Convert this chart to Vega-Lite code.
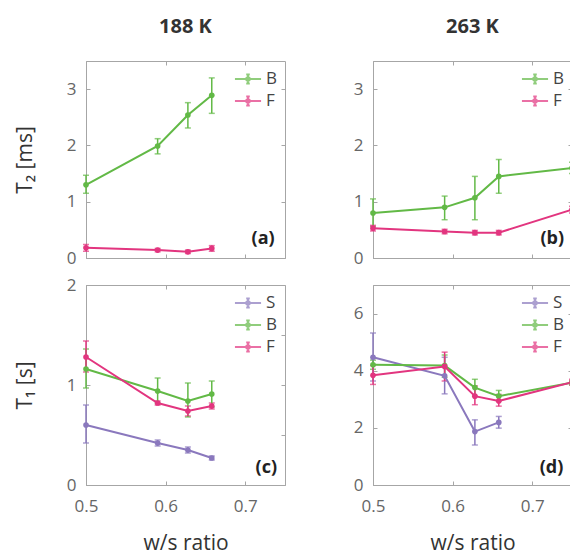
{
  "$schema": "https://vega.github.io/schema/vega-lite/v6.json",
  "padding": {"left": 13, "top": 16, "right": 0, "bottom": 4},
  "background": "white",
  "datasets": {
    "pts": [
      {"panel": "a", "s": "B", "x": 0.5, "y": 1.30, "lo": 1.15, "hi": 1.47},
      {"panel": "a", "s": "B", "x": 0.59, "y": 1.99, "lo": 1.85, "hi": 2.12},
      {"panel": "a", "s": "B", "x": 0.628, "y": 2.54, "lo": 2.31, "hi": 2.76},
      {"panel": "a", "s": "B", "x": 0.658, "y": 2.89, "lo": 2.57, "hi": 3.20},
      {"panel": "a", "s": "F", "x": 0.5, "y": 0.18, "lo": 0.12, "hi": 0.24},
      {"panel": "a", "s": "F", "x": 0.59, "y": 0.14, "lo": 0.11, "hi": 0.17},
      {"panel": "a", "s": "F", "x": 0.628, "y": 0.11, "lo": 0.08, "hi": 0.14},
      {"panel": "a", "s": "F", "x": 0.658, "y": 0.17, "lo": 0.12, "hi": 0.22},
      {"panel": "b", "s": "B", "x": 0.5, "y": 0.80, "lo": 0.56, "hi": 1.05},
      {"panel": "b", "s": "B", "x": 0.59, "y": 0.90, "lo": 0.68, "hi": 1.10},
      {"panel": "b", "s": "B", "x": 0.628, "y": 1.07, "lo": 0.68, "hi": 1.45},
      {"panel": "b", "s": "B", "x": 0.658, "y": 1.45, "lo": 1.15, "hi": 1.75},
      {"panel": "b", "s": "B", "x": 0.75, "y": 1.60, "lo": 1.50, "hi": 1.70},
      {"panel": "b", "s": "F", "x": 0.5, "y": 0.53, "lo": 0.48, "hi": 0.58},
      {"panel": "b", "s": "F", "x": 0.59, "y": 0.47, "lo": 0.43, "hi": 0.51},
      {"panel": "b", "s": "F", "x": 0.628, "y": 0.45, "lo": 0.41, "hi": 0.49},
      {"panel": "b", "s": "F", "x": 0.658, "y": 0.45, "lo": 0.41, "hi": 0.49},
      {"panel": "b", "s": "F", "x": 0.75, "y": 0.86, "lo": 0.80, "hi": 0.92},
      {"panel": "c", "s": "S", "x": 0.5, "y": 0.60, "lo": 0.42, "hi": 0.80},
      {"panel": "c", "s": "S", "x": 0.59, "y": 0.42, "lo": 0.39, "hi": 0.45},
      {"panel": "c", "s": "S", "x": 0.628, "y": 0.35, "lo": 0.32, "hi": 0.38},
      {"panel": "c", "s": "S", "x": 0.658, "y": 0.27, "lo": 0.25, "hi": 0.29},
      {"panel": "c", "s": "B", "x": 0.5, "y": 1.16, "lo": 0.97, "hi": 1.36},
      {"panel": "c", "s": "B", "x": 0.59, "y": 0.94, "lo": 0.82, "hi": 1.07},
      {"panel": "c", "s": "B", "x": 0.628, "y": 0.84, "lo": 0.68, "hi": 1.02},
      {"panel": "c", "s": "B", "x": 0.658, "y": 0.91, "lo": 0.78, "hi": 1.04},
      {"panel": "c", "s": "F", "x": 0.5, "y": 1.28, "lo": 1.13, "hi": 1.44},
      {"panel": "c", "s": "F", "x": 0.59, "y": 0.82, "lo": 0.80, "hi": 0.84},
      {"panel": "c", "s": "F", "x": 0.628, "y": 0.74, "lo": 0.69, "hi": 0.79},
      {"panel": "c", "s": "F", "x": 0.658, "y": 0.79, "lo": 0.76, "hi": 0.82},
      {"panel": "d", "s": "S", "x": 0.5, "y": 4.47, "lo": 3.64, "hi": 5.32},
      {"panel": "d", "s": "S", "x": 0.59, "y": 3.82, "lo": 3.19, "hi": 4.47},
      {"panel": "d", "s": "S", "x": 0.628, "y": 1.87, "lo": 1.40, "hi": 2.28},
      {"panel": "d", "s": "S", "x": 0.658, "y": 2.19, "lo": 1.99, "hi": 2.40},
      {"panel": "d", "s": "B", "x": 0.5, "y": 4.21, "lo": 4.05, "hi": 4.37},
      {"panel": "d", "s": "B", "x": 0.59, "y": 4.18, "lo": 3.77, "hi": 4.55},
      {"panel": "d", "s": "B", "x": 0.628, "y": 3.41, "lo": 3.11, "hi": 3.70},
      {"panel": "d", "s": "B", "x": 0.658, "y": 3.11, "lo": 2.94, "hi": 3.31},
      {"panel": "d", "s": "B", "x": 0.75, "y": 3.58, "lo": 3.50, "hi": 3.66},
      {"panel": "d", "s": "F", "x": 0.5, "y": 3.84, "lo": 3.52, "hi": 4.18},
      {"panel": "d", "s": "F", "x": 0.59, "y": 4.15, "lo": 3.64, "hi": 4.65},
      {"panel": "d", "s": "F", "x": 0.628, "y": 3.11, "lo": 2.81, "hi": 3.47},
      {"panel": "d", "s": "F", "x": 0.658, "y": 2.94, "lo": 2.76, "hi": 3.17},
      {"panel": "d", "s": "F", "x": 0.75, "y": 3.60, "lo": 3.50, "hi": 3.70}
    ]
  },
  "columns": 2,
  "spacing": {"row": 8, "column": 66},
  "concat": [
    {
      "title": "188 K",
      "width": 199,
      "height": 197,
      "data": {"name": "pts"},
      "transform": [{"filter": "datum.panel === 'a'"}],
      "resolve": {"axis": {"x": "independent", "y": "independent"}},
      "layer": [
        {
          "mark": {"type": "errorbar", "ticks": {"size": 6}, "thickness": 1.5},
          "encoding": {
            "x": {"field": "x", "type": "quantitative", "scale": {"domain": [0.5, 0.75], "nice": false}, "axis": {"values": [0.5, 0.6, 0.7], "labels": false, "title": null}},
            "y": {"field": "lo", "type": "quantitative", "scale": {"domain": [0, 3.5], "nice": false}, "axis": {"values": [0, 1, 2, 3], "labelExpr": "'' + datum.value", "title": "T₂  [ms]"}},
            "y2": {"field": "hi"},
            "color": {"field": "s", "type": "nominal", "scale": {"domain": ["B", "F"], "range": ["#62b946", "#e2357f"]}}
          }
        },
        {
          "mark": {"type": "line", "strokeWidth": 2},
          "encoding": {
            "x": {"field": "x", "type": "quantitative", "axis": null},
            "y": {"field": "y", "type": "quantitative", "axis": null},
            "color": {"field": "s", "type": "nominal"}
          }
        },
        {
          "mark": {"type": "point", "filled": true, "size": 32, "opacity": 1},
          "encoding": {
            "x": {"field": "x", "type": "quantitative", "axis": null},
            "y": {"field": "y", "type": "quantitative", "axis": null},
            "color": {"field": "s", "type": "nominal", "title": null, "legend": {"orient": "top-right"}}
          }
        },
        {
          "data": {"values": [{}]},
          "mark": {"type": "text", "text": "(a)", "align": "right", "baseline": "alphabetic", "fontSize": 18, "fontWeight": "bold", "color": "#222"},
          "encoding": {
            "x": {"datum": 0.737, "type": "quantitative", "axis": {"orient": "top", "values": [0.5, 0.6, 0.7], "labels": false, "domain": false, "title": null}},
            "y": {"datum": 0.25, "type": "quantitative", "axis": {"orient": "right", "values": [0, 1, 2, 3], "labels": false, "domain": false, "title": null}}
          }
        }
      ]
    },
    {
      "title": "263 K",
      "width": 199,
      "height": 197,
      "data": {"name": "pts"},
      "transform": [{"filter": "datum.panel === 'b'"}],
      "resolve": {"axis": {"x": "independent", "y": "independent"}},
      "layer": [
        {
          "mark": {"type": "errorbar", "ticks": {"size": 6}, "thickness": 1.5},
          "encoding": {
            "x": {"field": "x", "type": "quantitative", "scale": {"domain": [0.5, 0.75], "nice": false}, "axis": {"values": [0.5, 0.6, 0.7], "labels": false, "title": null}},
            "y": {"field": "lo", "type": "quantitative", "scale": {"domain": [0, 3.5], "nice": false}, "axis": {"values": [0, 1, 2, 3], "labelExpr": "'' + datum.value", "title": null}},
            "y2": {"field": "hi"},
            "color": {"field": "s", "type": "nominal", "scale": {"domain": ["B", "F"], "range": ["#62b946", "#e2357f"]}}
          }
        },
        {
          "mark": {"type": "line", "strokeWidth": 2},
          "encoding": {
            "x": {"field": "x", "type": "quantitative", "axis": null},
            "y": {"field": "y", "type": "quantitative", "axis": null},
            "color": {"field": "s", "type": "nominal"}
          }
        },
        {
          "mark": {"type": "point", "filled": true, "size": 32, "opacity": 1},
          "encoding": {
            "x": {"field": "x", "type": "quantitative", "axis": null},
            "y": {"field": "y", "type": "quantitative", "axis": null},
            "color": {"field": "s", "type": "nominal", "title": null, "legend": {"orient": "top-right"}}
          }
        },
        {
          "data": {"values": [{}]},
          "mark": {"type": "text", "text": "(b)", "align": "right", "baseline": "alphabetic", "fontSize": 18, "fontWeight": "bold", "color": "#222"},
          "encoding": {
            "x": {"datum": 0.74, "type": "quantitative", "axis": {"orient": "top", "values": [0.5, 0.6, 0.7], "labels": false, "domain": false, "title": null}},
            "y": {"datum": 0.25, "type": "quantitative", "axis": {"orient": "right", "values": [0, 1, 2, 3], "labels": false, "domain": false, "title": null}}
          }
        }
      ]
    },
    {
      "width": 199,
      "height": 200,
      "data": {"name": "pts"},
      "transform": [{"filter": "datum.panel === 'c'"}],
      "resolve": {"axis": {"x": "independent", "y": "independent"}},
      "layer": [
        {
          "mark": {"type": "errorbar", "ticks": {"size": 6}, "thickness": 1.5},
          "encoding": {
            "x": {"field": "x", "type": "quantitative", "scale": {"domain": [0.5, 0.75], "nice": false}, "axis": {"values": [0.5, 0.6, 0.7], "format": ".1f", "title": "w/s ratio"}},
            "y": {"field": "lo", "type": "quantitative", "scale": {"domain": [0, 2], "nice": false}, "axis": {"values": [0, 1, 2], "labelExpr": "'' + datum.value", "title": "T₁  [s]"}},
            "y2": {"field": "hi"},
            "color": {"field": "s", "type": "nominal", "scale": {"domain": ["S", "B", "F"], "range": ["#8a78bd", "#62b946", "#e2357f"]}}
          }
        },
        {
          "mark": {"type": "line", "strokeWidth": 2},
          "encoding": {
            "x": {"field": "x", "type": "quantitative", "axis": null},
            "y": {"field": "y", "type": "quantitative", "axis": null},
            "color": {"field": "s", "type": "nominal"}
          }
        },
        {
          "mark": {"type": "point", "filled": true, "size": 32, "opacity": 1},
          "encoding": {
            "x": {"field": "x", "type": "quantitative", "axis": null},
            "y": {"field": "y", "type": "quantitative", "axis": null},
            "color": {"field": "s", "type": "nominal", "title": null, "legend": {"orient": "top-right"}}
          }
        },
        {
          "data": {"values": [{}]},
          "mark": {"type": "text", "text": "(c)", "align": "right", "baseline": "alphabetic", "fontSize": 18, "fontWeight": "bold", "color": "#222"},
          "encoding": {
            "x": {"datum": 0.74, "type": "quantitative", "axis": {"orient": "top", "values": [0.5, 0.6, 0.7], "labels": false, "domain": false, "title": null}},
            "y": {"datum": 0.12, "type": "quantitative", "axis": {"orient": "right", "values": [0, 0.5, 1, 1.5, 2], "labels": false, "domain": false, "title": null}}
          }
        }
      ]
    },
    {
      "width": 199,
      "height": 200,
      "data": {"name": "pts"},
      "transform": [{"filter": "datum.panel === 'd'"}],
      "resolve": {"axis": {"x": "independent", "y": "independent"}},
      "layer": [
        {
          "mark": {"type": "errorbar", "ticks": {"size": 6}, "thickness": 1.5},
          "encoding": {
            "x": {"field": "x", "type": "quantitative", "scale": {"domain": [0.5, 0.75], "nice": false}, "axis": {"values": [0.5, 0.6, 0.7], "format": ".1f", "title": "w/s ratio"}},
            "y": {"field": "lo", "type": "quantitative", "scale": {"domain": [0, 7], "nice": false}, "axis": {"values": [0, 2, 4, 6], "labelExpr": "'' + datum.value", "title": null}},
            "y2": {"field": "hi"},
            "color": {"field": "s", "type": "nominal", "scale": {"domain": ["S", "B", "F"], "range": ["#8a78bd", "#62b946", "#e2357f"]}}
          }
        },
        {
          "mark": {"type": "line", "strokeWidth": 2},
          "encoding": {
            "x": {"field": "x", "type": "quantitative", "axis": null},
            "y": {"field": "y", "type": "quantitative", "axis": null},
            "color": {"field": "s", "type": "nominal"}
          }
        },
        {
          "mark": {"type": "point", "filled": true, "size": 32, "opacity": 1},
          "encoding": {
            "x": {"field": "x", "type": "quantitative", "axis": null},
            "y": {"field": "y", "type": "quantitative", "axis": null},
            "color": {"field": "s", "type": "nominal", "title": null, "legend": {"orient": "top-right"}}
          }
        },
        {
          "data": {"values": [{}]},
          "mark": {"type": "text", "text": "(d)", "align": "right", "baseline": "alphabetic", "fontSize": 18, "fontWeight": "bold", "color": "#222"},
          "encoding": {
            "x": {"datum": 0.739, "type": "quantitative", "axis": {"orient": "top", "values": [0.5, 0.6, 0.7], "labels": false, "domain": false, "title": null}},
            "y": {"datum": 0.43, "type": "quantitative", "axis": {"orient": "right", "values": [0, 2, 4, 6], "labels": false, "domain": false, "title": null}}
          }
        }
      ]
    }
  ],
  "resolve": {
    "scale": {"color": "independent", "x": "independent", "y": "independent"},
    "legend": {"color": "independent"}
  },
  "config": {
    "font": "Open Sans",
    "view": {"stroke": "#a6a6a6", "strokeWidth": 1},
    "axis": {
      "grid": false,
      "domainColor": "#a6a6a6",
      "tickColor": "#a6a6a6",
      "tickSize": -4,
      "labelFontSize": 17,
      "labelColor": "#666666",
      "labelFont": "Open Sans",
      "titleFont": "Open Sans",
      "titleFontSize": 21,
      "titleFontWeight": "normal",
      "titleColor": "#333333",
      "labelOverlap": false
    },
    "axisX": {"labelPadding": 17, "titlePadding": 18, "labelFlush": false},
    "axisY": {"labelPadding": 14, "titlePadding": 31, "labelOverlap": false},
    "title": {"fontSize": 20, "fontWeight": "bold", "color": "#333333", "offset": 24, "font": "Open Sans"},
    "legend": {
      "symbolType": "M-1.45,0H1.45M0,-0.5V0.5M-0.2,-0.5H0.2M-0.2,0.5H0.2M0.2,0A0.2,0.2 0 1,1 -0.2,0A0.2,0.2 0 1,1 0.2,0Z",
      "symbolSize": 324,
      "symbolStrokeWidth": 2,
      "labelFontSize": 17,
      "labelColor": "#444444",
      "labelFont": "Open Sans",
      "labelOffset": 8,
      "rowPadding": 3,
      "offset": 8,
      "padding": 0
    }
  }
}
